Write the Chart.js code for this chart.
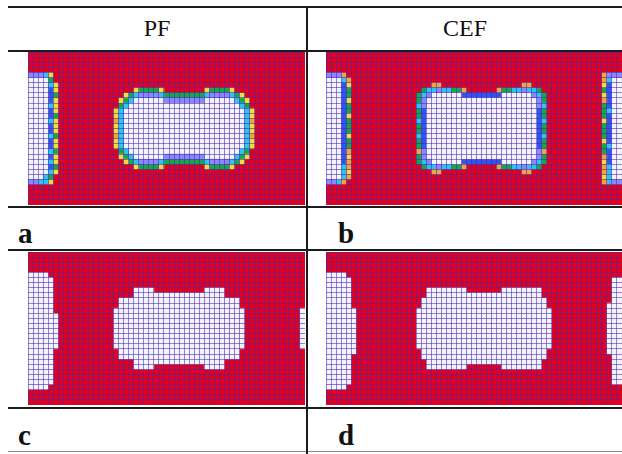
<!DOCTYPE html>
<html><head><meta charset="utf-8">
<script src="https://cdn.jsdelivr.net/npm/chart.js@4.4.1/dist/chart.umd.min.js"></script>
<style>
html,body{margin:0;padding:0;background:#fff;}
#wrap{position:relative;width:622px;height:454px;overflow:hidden;background:#fff;}
.hl{position:absolute;left:8px;width:614px;height:2px;background:#1b1b1b;}
.vl{position:absolute;left:306px;top:7px;width:2px;height:447px;background:#1b1b1b;}
.hdr{position:absolute;font-family:"Times New Roman","Liberation Serif",Tinos,"Nimbus Roman",serif;font-size:24px;line-height:24px;color:#111;text-align:center;}
.lab{position:absolute;font-family:"Times New Roman","Liberation Serif",Tinos,"Nimbus Roman",serif;font-weight:bold;font-size:29px;line-height:29px;color:#111;}
canvas{position:absolute;}
</style></head>
<body><div id="wrap">
<div class="hl" style="top:6px"></div>
<div class="hl" style="top:50px"></div>
<div class="hl" style="top:206px"></div>
<div class="hl" style="top:249px"></div>
<div class="hl" style="top:407px"></div>
<div class="hl" style="top:451px;height:1px;background:#8a8a8a"></div>
<div class="vl"></div>
<div class="hdr" id="h0" style="left:8px;width:298px;top:16px"></div>
<div class="hdr" id="h1" style="left:308px;width:314px;top:16px"></div>
<div class="lab" id="l0" style="left:18px;top:219px"></div>
<div class="lab" id="l1" style="left:338px;top:219px"></div>
<div class="lab" id="l2" style="left:18px;top:421px"></div>
<div class="lab" id="l3" style="left:338px;top:421px"></div>
<canvas id="pa" width="277" height="153" style="left:28px;top:52px"></canvas>
<canvas id="pb" width="296" height="153" style="left:326px;top:52px"></canvas>
<canvas id="pc" width="277" height="153" style="left:28px;top:252px"></canvas>
<canvas id="pd" width="296" height="153" style="left:326px;top:252px"></canvas>
</div>
<script>
// ---- text ----
const headerLabels = ["PF", "CEF"];
const panelLabels = ["a", "b", "c", "d"];

// ---- grid sizes (columns x rows) ----
const panelCols = [55, 59, 55, 59];
const panelRows = [30, 30, 30, 30];

// ---- cell states, run-length coded per row (count + code) ----
// codes: . red, w white, B light blue, b blue, c cyan, g green, y yellow, o orange
const cellsA = [
  "", "", "", "",
  "3B c y",
  "4w g",
  "4w c y",
  "4w b y 15. y 4g y 8. y 4g y",
  "4w b g 13. y g c 4B c 8g c 4B c g y",
  "4w b y 12. y g c 6w 8B 6w c g y",
  "4w c y 12. g c 22w c g",
  "4w b y 11. y c 24w c y",
  "4w b g 11. y c 24w c y",
  "4w c y 11. o c 24w c o",
  "4w b y 11. y c 24w c y",
  "4w b y 11. y c 24w c y",
  "4w c g 11. o c 24w c o",
  "4w b y 11. y c 24w c y",
  "4w b y 11. y c 24w c y",
  "4w c g 12. g c 22w c g",
  "4w b y 12. y g c 6w 8B 6w c g y",
  "4w c y 13. y g c 4B c 8g c 4B c g y",
  "4w b g 15. y 4g y 8. y 4g y",
  "4w c y",
  "3w c g",
  "2B 2c y",
  "", "", "", ""
];
const cellsB = [
  "", "", "", "",
  "3B o 51. o 3B",
  "3w c o 50. o c 2w",
  "3w b y 16. 2o 16. 2o 14. y b 2w",
  "3w b g 14. g 2c B 2c 2g o 6. o 2g 2c B 2c g 12. g b 2w",
  "3w b g 13. g c B 6w 8b 6w B c g 11. y b 2w",
  "3w b y 13. g B 22w B g 11. o b 2w",
  "3w b g 13. c B 22w B c 11. g b 2w",
  "3w b g 13. g b 22w b g 11. g c 2w",
  "3w b y 13. g b 22w b g 11. g b 2w",
  "3w b g 13. c b 22w b c 11. y b 2w",
  "3w b g 13. g b 22w b g 11. g b 2w",
  "3w b g 13. g b 22w b g 11. g b 2w",
  "3w b y 13. c b 22w b c 11. g b 2w",
  "3w b g 13. g b 22w b g 11. y b 2w",
  "3w b g 13. g b 22w b g 11. g c 2w",
  "3w b o 13. o B 22w B o 11. g b 2w",
  "3w b y 13. g B 22w B g 11. o b 2w",
  "3w b o 13. g c B 6w 8b 6w B c g 11. y b 2w",
  "3w c o 14. g 2c B 2c 2g o 6. o 2g 2c B 2c g 12. o c 2w",
  "3w c y 16. 2o 16. 2o 14. o c 2w",
  "3w c o 50. y c 2w",
  "2B c o 51. o c 2B",
  "", "", "", ""
];
const cellsC = [
  "", "", "", "",
  "4w",
  "5w",
  "5w",
  "5w 16. 4w 10. 4w",
  "5w 16. 18w",
  "5w 13. 24w",
  "5w 13. 24w",
  "5w 12. 26w 11. w",
  "6w 11. 26w 11. w",
  "6w 11. 26w 11. w",
  "6w 11. 26w 11. w",
  "6w 11. 26w 11. w",
  "6w 11. 26w 11. w",
  "6w 11. 26w 11. w",
  "6w 11. 26w 11. w",
  "5w 13. 24w",
  "5w 13. 24w",
  "5w 16. 18w",
  "5w 16. 4w 10. 4w",
  "5w",
  "5w",
  "5w",
  "4w",
  "", "", ""
];
const cellsD = [
  "", "", "", "",
  "4w",
  "5w 52. 2w",
  "5w 52. 2w",
  "5w 15. 8w 7. 8w 14. 2w",
  "5w 15. 23w 14. 2w",
  "5w 14. 25w 13. 2w",
  "5w 14. 25w 12. 3w",
  "6w 12. 27w 11. 3w",
  "6w 12. 27w 11. 3w",
  "6w 12. 27w 11. 3w",
  "6w 12. 27w 11. 3w",
  "6w 12. 27w 11. 3w",
  "6w 12. 27w 11. 3w",
  "6w 12. 27w 11. 3w",
  "6w 12. 27w 11. 3w",
  "6w 13. 25w 12. 3w",
  "5w 14. 25w 13. 2w",
  "5w 15. 23w 14. 2w",
  "5w 15. 8w 7. 8w 14. 2w",
  "5w 52. 2w",
  "5w 52. 2w",
  "5w 52. 2w",
  "4w",
  "", "", ""
];

// ---- styles ----
const RED = "#e2001e";
const GRID = "rgba(70,40,170,0.55)";
const cellColors = {
  w: "#f3f3ff", B: "#8a88ff", b: "#2f55f2", c: "#2cc4f2",
  g: "#14a84a", y: "#f0dc3a", o: "#f0a442"
};

document.getElementById("h0").textContent = headerLabels[0];
document.getElementById("h1").textContent = headerLabels[1];
panelLabels.forEach((t, i) => document.getElementById("l" + i).textContent = t);

function decodeRow(rle) {
  const out = [];
  if (!rle) return out;
  rle.trim().split(/\s+/).forEach(tok => {
    const m = tok.match(/^(\d*)(.)$/);
    const n = m[1] ? parseInt(m[1], 10) : 1;
    for (let i = 0; i < n; i++) out.push(m[2]);
  });
  return out;
}

const bgPlugin = {
  id: "redBg",
  beforeDraw(chart) {
    const { ctx, chartArea: a } = chart;
    ctx.save();
    ctx.fillStyle = RED;
    ctx.fillRect(a.left, a.top, a.right - a.left, a.bottom - a.top);
    ctx.restore();
  }
};

function cellRadius(ctx) {
  const ch = ctx.chart, xs = ch.scales.x, ys = ch.scales.y;
  const w = Math.abs(xs.getPixelForValue(1) - xs.getPixelForValue(0));
  const h = Math.abs(ys.getPixelForValue(1) - ys.getPixelForValue(0));
  return (Math.max(w, h) + 0.4) / Math.SQRT2;
}

function makePanel(id, rows, ncols, nrows) {
  const groups = {};
  rows.forEach((rle, r) => {
    decodeRow(rle).forEach((code, c) => {
      if (code === "." || c >= ncols) return;
      (groups[code] = groups[code] || []).push({ x: c + 0.5, y: r + 0.5 });
    });
  });
  const datasets = Object.keys(groups).map(code => ({
    label: code,
    data: groups[code],
    backgroundColor: cellColors[code],
    borderWidth: 0,
    pointStyle: "rect",
    pointRadius: cellRadius,
    pointHoverRadius: cellRadius
  }));
  const axis = (n, rev) => ({
    type: "linear", min: 0, max: n, reverse: rev,
    border: { display: false },
    ticks: { display: false, stepSize: 1, maxTicksLimit: 200 },
    grid: { color: GRID, lineWidth: 1, drawTicks: false, z: 1 }
  });
  new Chart(document.getElementById(id), {
    type: "scatter",
    data: { datasets },
    options: {
      responsive: false, animation: false, devicePixelRatio: 1, events: [],
      layout: { padding: 0 },
      plugins: { legend: { display: false }, tooltip: { enabled: false } },
      scales: { x: axis(ncols, false), y: axis(nrows, true) }
    },
    plugins: [bgPlugin]
  });
}

makePanel("pa", cellsA, panelCols[0], panelRows[0]);
makePanel("pb", cellsB, panelCols[1], panelRows[1]);
makePanel("pc", cellsC, panelCols[2], panelRows[2]);
makePanel("pd", cellsD, panelCols[3], panelRows[3]);
</script>
</body></html>
